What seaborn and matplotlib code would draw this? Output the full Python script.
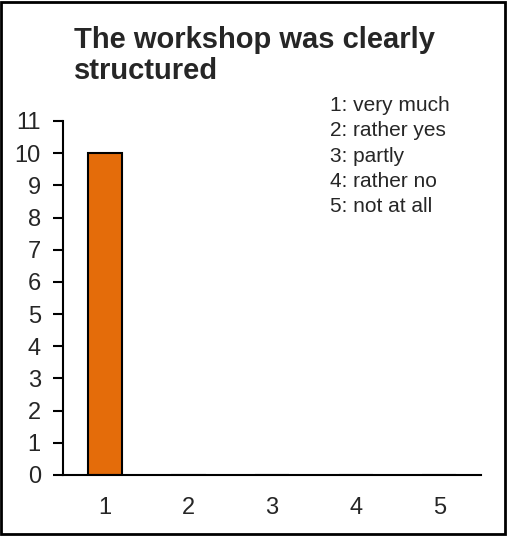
import matplotlib
matplotlib.use('Agg')
import matplotlib.pyplot as plt
import pandas as pd
import seaborn as sns
from matplotlib.patches import Rectangle

CATEGORIES = ['1', '2', '3', '4', '5']
COUNTS = [10, 0, 0, 0, 0]
Y_TICKS = list(range(0, 12))
TITLE = "The workshop was clearly\nstructured"
LEGEND_LINES = ['1: very much', '2: rather yes', '3: partly', '4: rather no', '5: not at all']

sns.set_style("white")
plt.rcParams['font.family'] = ['Liberation Sans', 'DejaVu Sans']

df = pd.DataFrame({'answer': CATEGORIES, 'count': COUNTS})

fig = plt.figure(figsize=(5.08, 5.37), dpi=100)
ax = fig.add_axes([0.124, 0.1155, 0.823, 0.6592])

sns.barplot(data=df, x='answer', y='count', color='#E46C0A', saturation=1,
            width=0.41, edgecolor='black', linewidth=1.5, ax=ax)

ax.set_xlim(-0.5, 4.5)
ax.set_ylim(0, 11)
ax.set_yticks(Y_TICKS)
ax.set_xlabel('')
ax.set_ylabel('')
for side in ['top', 'right']:
    ax.spines[side].set_visible(False)
for side in ['left', 'bottom']:
    ax.spines[side].set_color('black')
    ax.spines[side].set_linewidth(1.5)
ax.tick_params(axis='y', left=True, length=7, width=1.5, color='black',
               labelsize=17, pad=9, direction='out')
ax.tick_params(axis='x', bottom=False, labelsize=17, pad=12)

fig.text(74 / 508, 1 - 26 / 537, TITLE, fontsize=21, fontweight='bold',
         ha='left', va='top', linespacing=1.15)
fig.text(330 / 508, 1 - 96 / 537, '\n'.join(LEGEND_LINES), fontsize=15,
         ha='left', va='top', linespacing=1.42)

fig.patches.append(Rectangle((1 / 508, 3 / 537), 504 / 508, 532 / 537,
                             transform=fig.transFigure, fill=False,
                             edgecolor='black', linewidth=2))

fig.savefig('out.png', dpi=100)
